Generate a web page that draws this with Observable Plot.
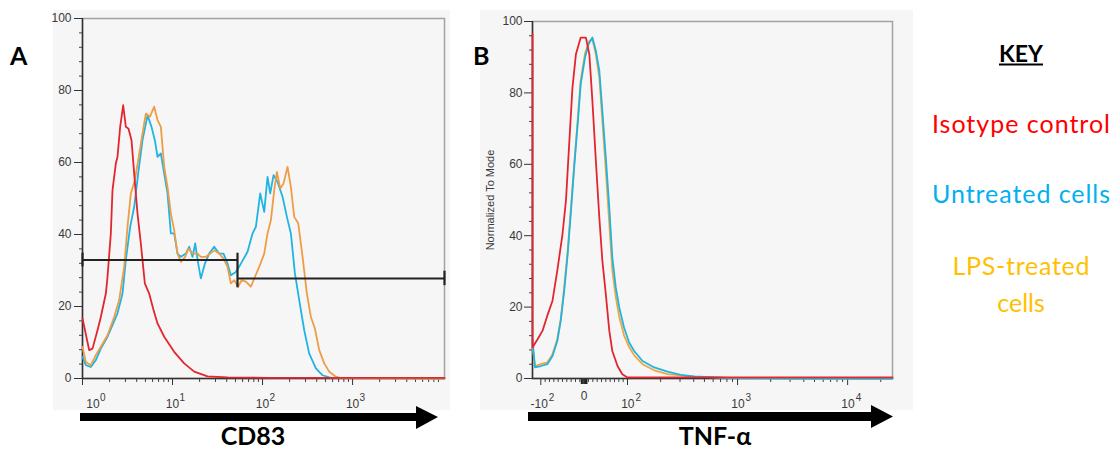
<!DOCTYPE html>
<html><head><meta charset="utf-8">
<script src="https://cdn.jsdelivr.net/npm/d3@7"></script>
<script src="https://cdn.jsdelivr.net/npm/@observablehq/plot@0.6"></script>
<style>
body{margin:0;background:#fff}
#root{position:relative;width:1114px;height:450px;overflow:hidden;background:#fff}
.panel{position:absolute}
#deco{position:absolute;left:0;top:0}
</style></head><body>
<div id="root">
<div id="pa" class="panel" style="left:53px;top:10px;width:397px;height:400px"></div>
<div id="pb" class="panel" style="left:480px;top:10px;width:433px;height:400px"></div>
<svg id="deco" width="1114" height="450"></svg>
</div>
<script>
// ---------- Panel A (CD83, log x) ----------
const aIsoX = [1, 1.186, 1.292, 1.468, 1.598, 1.817, 1.896, 2.064, 2.154, 2.346, 2.448, 2.621, 2.830, 3.030, 3.245, 3.503, 3.751, 4.085, 4.447, 4.927, 5.503, 6.151, 6.813, 8.081, 10.43, 13.48, 17.41, 24.49, 40.84, 113.6, 10500];
const aIsoY = [16.7, 7.9, 8.3, 13.4, 17.1, 23.6, 28.2, 40.3, 52.3, 59.7, 61.6, 69.9, 75.9, 69.9, 69.4, 66.2, 56.9, 45.8, 37.5, 26.4, 23.6, 19.0, 15.3, 11.6, 7.4, 4.2, 1.9, 0.6, 0.3, 0.2, 0.2];
const aUntX = [1, 1.089, 1.238, 1.406, 1.598, 1.896, 2.154, 2.448, 2.783, 3.030, 3.385, 3.751, 4.155, 4.642, 5.275, 5.843, 6.364, 6.813, 7.420, 8.081, 8.800, 9.583, 10.43, 11.36, 12.38, 14.06, 15.32, 16.68, 17.86, 19.29, 20.64, 22.87, 25.55, 29.04, 33.00, 36.87, 40.84, 44.47, 50.54, 57.45, 68.13, 77.43, 84.33, 94.21, 104.4, 113.6, 121.7, 132.5, 146.8, 166.8, 186.4, 206.4, 228.8, 255.5, 290.4, 330.0, 391.5, 464.2, 574.5, 10500];
const aUntY = [6.0, 3.7, 3.2, 5.1, 8.3, 11.6, 14.8, 18.1, 23.6, 32.9, 42.1, 47.7, 56.9, 66.2, 73.1, 69.9, 66.2, 61.6, 62.5, 56.9, 51.4, 40.3, 40.3, 34.7, 33.8, 34.7, 36.6, 33.8, 37.5, 31.9, 27.8, 31.9, 34.7, 36.6, 34.7, 34.7, 31.9, 28.7, 29.6, 31.9, 35.2, 40.3, 42.1, 51.4, 46.3, 56.0, 51.4, 56.5, 54.6, 50.5, 44.9, 40.3, 29.2, 21.8, 13.4, 6.9, 2.8, 0.9, 0.2, 0];
const aLpsX = [1, 1.089, 1.238, 1.406, 1.598, 1.896, 2.248, 2.555, 2.904, 3.162, 3.444, 3.815, 4.155, 4.642, 5.054, 5.600, 6.256, 6.813, 7.420, 8.081, 8.800, 9.583, 10.43, 11.36, 12.38, 13.82, 15.06, 16.68, 18.96, 20.64, 23.46, 26.21, 29.04, 33.00, 36.87, 40.84, 44.47, 48.43, 53.65, 58.44, 65.28, 74.21, 82.18, 91.84, 104.4, 113.6, 123.8, 134.8, 144.3, 157.1, 171.1, 189.6, 206.4, 224.9, 249.1, 278.3, 310.9, 344.4, 381.6, 426.2, 484.4, 550.4, 652.9, 742.1, 10500];
const aLpsY = [8.8, 4.6, 3.7, 6.5, 8.8, 12.0, 17.1, 21.8, 31.0, 42.1, 51.4, 55.1, 60.6, 68.1, 73.6, 72.7, 75.5, 71.8, 69.9, 58.8, 53.2, 45.8, 41.2, 34.7, 32.4, 33.8, 36.1, 34.7, 34.7, 33.8, 33.8, 34.7, 35.6, 34.7, 33.3, 31.0, 26.4, 27.3, 25.5, 27.3, 26.9, 25.5, 28.2, 31.0, 34.7, 40.3, 44.0, 52.3, 57.4, 52.8, 54.2, 58.8, 53.2, 44.9, 43.1, 33.8, 23.6, 17.1, 13.9, 7.9, 4.2, 1.9, 0.5, 0.1, 0];
// gates (range markers)
const gateX1 = [1, 52.7];
const gateX2 = [52.7, 10500];
const gateY = [32.9, 27.8];
const capX = [1, 52.7, 10500];
const capY1 = [31.0, 25.2, 25.8];
const capY2 = [34.8, 34.8, 29.8];
// axis ticks
const aXMajor = [1, 10, 100, 1000];
const aXExp = ["0", "1", "2", "3"];
const aXMinor = [2,3,4,5,6,7,8,9,20,30,40,50,60,70,80,90,200,300,400,500,600,700,800,900,2000,3000,4000,5000,6000,7000,8000,9000];
const yMajor = [0, 20, 40, 60, 80, 100];
const yMinor = [4,8,12,16,24,28,32,36,44,48,52,56,64,68,72,76,84,88,92,96];

// ---------- Panel B (TNF-alpha, biexponential x) ----------
const bIsoX = [-119, -119, -107, -96, -85, -73, -62, -50, -42, -35, -27, -19, -8, 4, 12, 19, 27, 35, 42, 50, 58, 65, 77, 88, 100, 25560];
const bIsoY = [96.5, 8.7, 11, 13.4, 17.6, 21.8, 30.2, 40.4, 49.8, 64.7, 81.5, 90.8, 95.5, 95.5, 90.8, 77.8, 61, 45.1, 33, 23.6, 13.4, 7.7, 3.5, 1.2, 0.3, 0.3];
const bUntX = [-119, -113, -100, -85, -73, -62, -54, -46, -38, -31, -23, -15, -8, 2, 10, 19, 27, 35, 42, 50, 58, 65, 73, 81, 92, 103.5, 115, 137, 175, 231, 305, 403, 810, 1627, 3268, 25560];
const bUntY = [11, 3.1, 3.5, 4.0, 6.3, 10.5, 16.2, 24.6, 34.8, 46, 59.1, 71.2, 82.4, 89.9, 93.6, 95.5, 91.8, 86.2, 75, 61.9, 47.9, 33.9, 25.5, 19.9, 14.3, 10.1, 7.7, 4.9, 3.1, 1.9, 1.0, 0.6, 0.2, 0.1, 0, 0];
const bLpsX = [-119, -113, -100, -85, -73, -62, -54, -46, -38, -31, -23, -15, -8, 2, 12, 19, 27, 35, 42, 50, 58, 65, 73, 81, 92, 103.5, 115, 137, 175, 231, 403, 810, 3268, 25560];
const bLpsY = [9, 3.5, 4.0, 4.5, 6.8, 11, 16.7, 25.5, 35.8, 47, 60, 72.3, 83.5, 91, 94.6, 95.0, 90.8, 84.3, 72.2, 58.3, 43.4, 30.3, 22.8, 17.2, 12.1, 8.8, 6.5, 4.0, 2.3, 1.2, 0.5, 0.2, 0, 0];
const bXMajor = [-100, 100, 1000, 10000];
const bXBase = ["-10", "10", "10", "10"];
const bXExp = ["2", "2", "3", "4"];
const bXZero = [0];
const bXMinor = [-90,-80,-70,-60,-50,-40,-30,-20,-10,10,20,30,40,50,60,70,80,90,200,300,400,500,600,700,800,900,2000,3000,4000,5000,6000,7000,8000,9000,20000];
const bXZeroCluster = [-6, -3, 0, 3, 6];
const bDomain = [-119, 25560];

const key = ["Isotype control", "Untreated cells", "LPS-treated", "cells"];

// colours
const cIso = "#e3262e", cUnt = "#1fb4e2", cLpsA = "#ef9d45", cLpsB = "#f2a73a";

const rows = (xs, ys) => xs.map((x, i) => ({x, y: ys[i]}));
// biexponential-like display transform (linear near 0, log beyond +-100)
const lg = v => Math.abs(v) <= 100 ? v / 100 : Math.sign(v) * (1 + 2.54 * Math.log10(Math.abs(v) / 100));

const FONT = "'Liberation Sans', Arial, sans-serif";
const tf = {fontSize: 12, fill: "#3a3a3a", fontFamily: FONT};

const plotA = Plot.plot({
  width: 397, height: 400,
  marginLeft: 29, marginRight: 6, marginTop: 8, marginBottom: 32,
  style: {background: "#f6f6f6", overflow: "visible", fontFamily: FONT},
  x: {type: "log", domain: [1, 10500], axis: null},
  y: {domain: [0, 100], axis: null},
  marks: [
    Plot.frame({stroke: "#a3a3a3", strokeWidth: 1.5}),
    Plot.axisY({ticks: yMinor, tickSize: 3, tickFormat: () => "", stroke: "#444", label: null}),
    Plot.axisY({ticks: yMajor, tickSize: 8, tickPadding: 3, stroke: "#333", label: null, ...tf}),
    Plot.axisX({ticks: aXMinor, tickSize: 4, tickFormat: () => "", stroke: "#444", label: null}),
    Plot.axisX({ticks: aXMajor, tickSize: 7, tickFormat: () => "", stroke: "#333", label: null}),
    Plot.text(aXMajor.slice(1), {x: d => d, text: () => "10", frameAnchor: "bottom", dy: 29, lineAnchor: "bottom", textAnchor: "middle", ...tf}),
    Plot.text(aXMajor.slice(1), {x: d => d, text: (d, i) => aXExp[i + 1], frameAnchor: "bottom", dy: 22, dx: 7, lineAnchor: "bottom", textAnchor: "start", ...tf, fontSize: 10}),
    Plot.text(aXMajor.slice(0, 1), {x: d => d, text: () => "10", frameAnchor: "bottom", dy: 29, dx: 10.5, lineAnchor: "bottom", textAnchor: "middle", ...tf}),
    Plot.text(aXMajor.slice(0, 1), {x: d => d, text: () => aXExp[0], frameAnchor: "bottom", dy: 22, dx: 17.5, lineAnchor: "bottom", textAnchor: "start", ...tf, fontSize: 10}),
    Plot.ruleX([1], {stroke: "#333", strokeWidth: 1.5}),
    Plot.ruleY([0], {stroke: "#333", strokeWidth: 1.5}),
    Plot.line(rows(aUntX, aUntY), {x: "x", y: "y", stroke: cUnt, strokeWidth: 1.8}),
    Plot.line(rows(aLpsX, aLpsY), {x: "x", y: "y", stroke: cLpsA, strokeWidth: 1.8}),
    Plot.line(rows(aIsoX, aIsoY), {x: "x", y: "y", stroke: cIso, strokeWidth: 1.8}),
    Plot.ruleY(gateY.map((y, i) => ({y, x1: gateX1[i], x2: gateX2[i]})), {y: "y", x1: "x1", x2: "x2", stroke: "#222", strokeWidth: 2}),
    Plot.ruleX(capX.map((x, i) => ({x, y1: capY1[i], y2: capY2[i]})), {x: "x", y1: "y1", y2: "y2", stroke: "#222", strokeWidth: 2.2})
  ]
});
document.getElementById("pa").appendChild(plotA);

const plotB = Plot.plot({
  width: 433, height: 400,
  marginLeft: 52, marginRight: 21, marginTop: 11, marginBottom: 32,
  style: {background: "#f6f6f6", overflow: "hidden", fontFamily: FONT},
  x: {type: "linear", domain: bDomain.map(lg), axis: null},
  y: {domain: [0, 100], axis: null},
  marks: [
    Plot.frame({stroke: "#a3a3a3", strokeWidth: 1.5}),
    Plot.axisY({ticks: yMinor, tickSize: 3, tickFormat: () => "", stroke: "#444", label: null}),
    Plot.axisY({ticks: yMajor, tickSize: 8, tickPadding: 2, stroke: "#333", label: null, ...tf}),
    Plot.text(["Normalized To Mode"], {text: d => d, frameAnchor: "left", dx: -42, rotate: -90, textAnchor: "middle", lineAnchor: "middle", fontSize: 11, fill: "#3a3a3a", fontFamily: FONT}),
    Plot.axisX({ticks: bXMinor.map(lg), tickSize: 4, tickFormat: () => "", stroke: "#444", label: null}),
    Plot.axisX({ticks: bXZeroCluster.map(lg), tickSize: 6, tickFormat: () => "", stroke: "#222", strokeWidth: 1.5, label: null}),
    Plot.axisX({ticks: bXMajor.map(lg), tickSize: 7, tickFormat: () => "", stroke: "#333", label: null}),
    Plot.text(bXMajor, {x: d => lg(d), text: (d, i) => bXBase[i], frameAnchor: "bottom", dy: 29, dx: 7, lineAnchor: "bottom", textAnchor: "end", ...tf}),
    Plot.text(bXMajor, {x: d => lg(d), text: (d, i) => bXExp[i], frameAnchor: "bottom", dy: 22, dx: 8, lineAnchor: "bottom", textAnchor: "start", ...tf, fontSize: 10}),
    Plot.text(bXZero, {x: d => lg(d), text: d => String(d), frameAnchor: "bottom", dy: 21, lineAnchor: "bottom", textAnchor: "middle", ...tf}),
    Plot.ruleX([lg(bDomain[0])], {stroke: "#333", strokeWidth: 1.5}),
    Plot.ruleY([0], {stroke: "#333", strokeWidth: 1.5}),
    Plot.line(rows(bLpsX, bLpsY), {x: d => lg(d.x), y: "y", stroke: cLpsB, strokeWidth: 1.8}),
    Plot.line(rows(bUntX, bUntY), {x: d => lg(d.x), y: "y", stroke: cUnt, strokeWidth: 1.8}),
    Plot.line(rows(bIsoX, bIsoY), {x: d => lg(d.x), y: "y", stroke: cIso, strokeWidth: 1.8})
  ]
});
document.getElementById("pb").appendChild(plotB);

// ---------- decorations: panel letters, axis arrows, key ----------
const LF = "Lato, 'Open Sans', 'DejaVu Sans', sans-serif";
document.getElementById("deco").innerHTML = `
<polygon points="80,413 416,413 416,406 438,417 416,429 416,421 80,421" fill="#000"/>
<polygon points="528,412 871,412 871,405 893,416.5 871,428 871,421 528,421" fill="#000"/>
<text x="10" y="65" font-family="${LF}" font-weight="bold" font-size="25" fill="#000">A</text>
<text x="473" y="65" font-family="${LF}" font-weight="bold" font-size="25" fill="#000">B</text>
<text x="253" y="445" text-anchor="middle" font-family="${LF}" font-weight="bold" font-size="25" fill="#000">CD83</text>
<text x="715" y="445" text-anchor="middle" font-family="${LF}" font-weight="bold" font-size="25" fill="#000">TNF-α</text>
<text x="1021" y="62" text-anchor="middle" font-family="${LF}" font-weight="bold" font-size="23" fill="#000">KEY</text>
<line x1="999" x2="1043" y1="64.5" y2="64.5" stroke="#000" stroke-width="2"/>
<text x="1021" y="133" text-anchor="middle" font-family="${LF}" font-size="25" fill="#ff0000" textLength="178" lengthAdjust="spacing">${key[0]}</text>
<text x="1021" y="203" text-anchor="middle" font-family="${LF}" font-size="25" fill="#00b0f0" textLength="178" lengthAdjust="spacing">${key[1]}</text>
<text x="1021" y="275" text-anchor="middle" font-family="${LF}" font-size="25" fill="#ffc000" textLength="137" lengthAdjust="spacing">${key[2]}</text>
<text x="1021" y="312" text-anchor="middle" font-family="${LF}" font-size="25" fill="#ffc000">${key[3]}</text>
`;
</script>
</body></html>
